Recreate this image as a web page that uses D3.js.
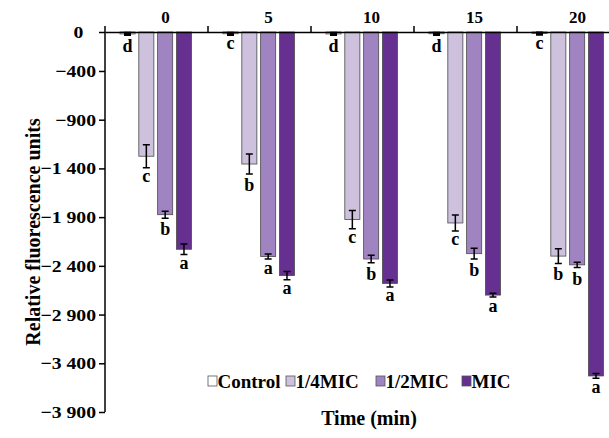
<!DOCTYPE html>
<html>
<head>
<meta charset="utf-8">
<script src="https://cdn.jsdelivr.net/npm/d3@7"></script>
<style>
  body { margin: 0; background: #fff; }
  svg { display: block; font-family: "Liberation Serif", "Times New Roman", serif; font-weight: bold; }
</style>
</head>
<body>
<div id="plot"></div>
<script>
// data
const times = ["0", "5", "10", "15", "20"];
const series = ["Control", "1/4MIC", "1/2MIC", "MIC"];
const control = [-20, -18, -20, -18, -16];
const quarterMIC = [-1275, -1355, -1925, -1960, -2300];
const halfMIC = [-1875, -2305, -2330, -2275, -2390];
const fullMIC = [-2230, -2500, -2580, -2700, -3530];
const controlErr = [9, 9, 9, 9, 9];
const quarterErr = [118, 103, 93, 82, 75];
const halfErr = [36, 26, 38, 55, 28];
const fullErr = [53, 43, 36, 20, 24];
const controlSig = ["d", "c", "d", "d", "c"];
const quarterSig = ["c", "b", "c", "c", "b"];
const halfSig = ["b", "a", "b", "b", "b"];
const fullSig = ["a", "a", "a", "a", "a"];
const yTicks = [0, -400, -900, -1400, -1900, -2400, -2900, -3400, -3900];

const colors = ["#ffffff", "#cdc1de", "#a084c2", "#65308f"];
const values = [control, quarterMIC, halfMIC, fullMIC];
const errs = [controlErr, quarterErr, halfErr, fullErr];
const sigs = [controlSig, quarterSig, halfSig, fullSig];

const width = 609, height = 438;
const margin = { top: 32, left: 105, bottom: 26 };

const svg = d3.select('#plot').append('svg')
  .attr('width', width)
  .attr('height', height);

const x0 = d3.scaleBand().domain(times).range([margin.left, 620]);
const x1 = d3.scaleBand().domain(series).range([15, 86.5]).paddingInner(0.2);
const y = d3.scaleLinear().domain([0, -3900]).range([margin.top, height - margin.bottom]);
const color = d3.scaleOrdinal().domain(series).range(colors);

const locale = d3.formatLocale({ decimal: ".", thousands: " ", grouping: [3], currency: ["", ""], minus: "\u2212" });
const fmt = locale.format(",");

// rows for bars
const rows = [];
times.forEach((t, i) => {
  series.forEach((s, j) => {
    rows.push({ t, s, v: values[j][i], e: errs[j][i], sig: sigs[j][i] });
  });
});

const groups = svg.append('g').selectAll('g')
  .data(rows)
  .join('g')
  .attr('transform', d => `translate(${x0(d.t) + x1(d.s)},0)`);

groups.append('rect')
  .attr('y', y(0))
  .attr('width', x1.bandwidth())
  .attr('height', d => y(d.v) - y(0))
  .attr('fill', d => color(d.s))
  .attr('stroke', '#4a4a4a')
  .attr('stroke-width', 0.8);

// error bars
const cx = x1.bandwidth() / 2;
groups.append('path')
  .attr('d', d => {
    const a = y(d.v + d.e), b = y(d.v - d.e);
    return `M${cx},${a}V${b}M${cx - 3.5},${a}H${cx + 3.5}M${cx - 3.5},${b}H${cx + 3.5}`;
  })
  .attr('fill', 'none')
  .attr('stroke', '#000')
  .attr('stroke-width', d => d.s === 'Control' ? 2.5 : 1.5);

// significance letters, ascender letters sit a bit lower
groups.append('text')
  .attr('x', cx)
  .attr('y', d => y(d.v - d.e) + (d.sig === 'b' || d.sig === 'd' ? 17 : 14.5))
  .attr('text-anchor', 'middle')
  .attr('font-size', 18)
  .text(d => d.sig);

// top axis with group labels
const xAxis = d3.axisTop(x0).tickSize(0).tickPadding(9);
const gx = svg.append('g')
  .attr('transform', `translate(0,${y(0)})`)
  .call(xAxis);
gx.select('.domain').attr('stroke', '#000').attr('stroke-width', 1.5);
gx.selectAll('.tick text')
  .attr('font-size', 17)
  .attr('font-family', 'Liberation Serif')
  .attr('font-weight', 'bold')
  .attr('fill', '#000')
  .attr('dx', 9);
gx.selectAll('.boundary')
  .data(times.slice(1))
  .join('line')
  .attr('class', 'boundary')
  .attr('x1', d => x0(d)).attr('x2', d => x0(d))
  .attr('y1', 0).attr('y2', -6)
  .attr('stroke', '#000')
  .attr('stroke-width', 1.5);

// left axis (labels a little wider, like the original)
const yAxis = d3.axisLeft(y).tickValues(yTicks).tickFormat(fmt).tickSize(6).tickPadding(3).tickSizeOuter(0);
const gy = svg.append('g')
  .attr('transform', `translate(${margin.left},0)`)
  .call(yAxis);
gy.select('.domain').attr('stroke', '#000').attr('stroke-width', 1.5)
  .attr('d', `M0,${y(0) - 6}V${y(-3900)}`);
gy.selectAll('.tick line').attr('stroke-width', 1.5);
gy.selectAll('.tick text')
  .attr('font-size', 17)
  .attr('font-family', 'Liberation Serif')
  .attr('font-weight', 'bold')
  .attr('fill', '#000')
  .attr('x', 0)
  .attr('transform', 'translate(-9,0) scale(1.16,1)')
  .attr('dx', d => d === 0 ? -11 : 0);

svg.append('text')
  .attr('transform', `translate(40,${(y(0) + y(-3900)) / 2 + 10}) rotate(-90)`)
  .attr('text-anchor', 'middle')
  .attr('font-size', 20)
  .text('Relative fluorescence units');

svg.append('text')
  .attr('x', 369)
  .attr('y', 425)
  .attr('text-anchor', 'middle')
  .attr('font-size', 20)
  .text('Time (min)');

// legend
const legendX = [208, 286, 376, 462];
const legend = svg.append('g').selectAll('g')
  .data(series)
  .join('g')
  .attr('transform', (d, i) => `translate(${legendX[i]},375)`);
legend.append('rect')
  .attr('y', 1)
  .attr('width', 9)
  .attr('height', 10)
  .attr('fill', d => color(d))
  .attr('stroke', '#555')
  .attr('stroke-width', 0.8);
legend.append('text')
  .attr('x', 9.5)
  .attr('y', 12.5)
  .attr('font-size', 19)
  .text(d => d);
</script>
</body>
</html>
